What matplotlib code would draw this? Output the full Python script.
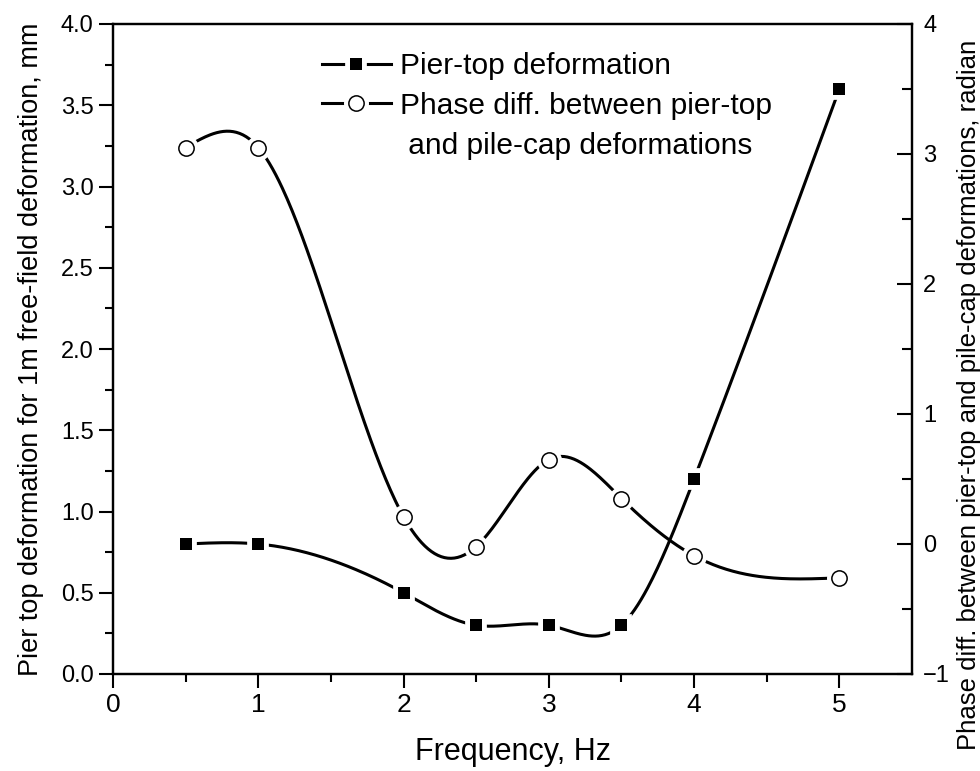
import numpy as np
import matplotlib.pyplot as plt
from matplotlib.lines import Line2D

# data
freq = [0.5, 1.0, 2.0, 2.5, 3.0, 3.5, 4.0, 5.0]
pier_top = [0.8, 0.8, 0.5, 0.3, 0.3, 0.3, 1.2, 3.6]
phase_diff = [3.05, 3.05, 0.21, -0.02, 0.65, 0.35, -0.09, -0.26]

x_ticks = [0, 1, 2, 3, 4, 5]
left_ticks = [0.0, 0.5, 1.0, 1.5, 2.0, 2.5, 3.0, 3.5, 4.0]
right_ticks = [-1, 0, 1, 2, 3, 4]

plt.rcParams['font.family'] = ['Liberation Sans', 'DejaVu Sans']


def natural_spline(x, y, n=400):
    # natural cubic spline through the data points (smooth connection)
    x = np.asarray(x, float)
    y = np.asarray(y, float)
    k = len(x)
    h = np.diff(x)
    A = np.zeros((k, k))
    b = np.zeros(k)
    A[0, 0] = A[-1, -1] = 1
    for i in range(1, k - 1):
        A[i, i - 1] = h[i - 1]
        A[i, i] = 2 * (h[i - 1] + h[i])
        A[i, i + 1] = h[i]
        b[i] = 6 * ((y[i + 1] - y[i]) / h[i] - (y[i] - y[i - 1]) / h[i - 1])
    M = np.linalg.solve(A, b)
    xs = np.linspace(x[0], x[-1], n)
    idx = np.clip(np.searchsorted(x, xs) - 1, 0, k - 2)
    x0, x1 = x[idx], x[idx + 1]
    hh = x1 - x0
    t0, t1 = x1 - xs, xs - x0
    ys = (M[idx] * t0**3 / (6 * hh) + M[idx + 1] * t1**3 / (6 * hh)
          + (y[idx] / hh - M[idx] * hh / 6) * t0
          + (y[idx + 1] / hh - M[idx + 1] * hh / 6) * t1)
    return xs, ys


fig = plt.figure(figsize=(9.8, 7.71), dpi=100)
ax = fig.add_axes([113 / 980, 1 - 674 / 771, (912 - 113) / 980, (674 - 24) / 771])
ax2 = ax.twinx()

lw = 2.2
# pier-top deformation (left axis)
xs, ys = natural_spline(freq, pier_top)
l1, = ax.plot(xs, ys, color='k', lw=lw, zorder=2)
h1, = ax.plot(freq, pier_top, 's', ms=9, mfc='w', mec='w', mew=7, zorder=3)
m1, = ax.plot(freq, pier_top, 's', ms=9, mfc='k', mec='k', mew=0, zorder=4)

# phase difference (right axis)
xs, ys = natural_spline(freq, phase_diff)
l2, = ax2.plot(xs, ys, color='k', lw=lw, zorder=2)
h2, = ax2.plot(freq, phase_diff, 'o', ms=11, mfc='w', mec='w', mew=7, zorder=3)
m2, = ax2.plot(freq, phase_diff, 'o', ms=11, mfc='w', mec='k', mew=1.1, zorder=4)

ax.set_xlim(0, 5.5)
ax.set_ylim(0, 4.0)
ax2.set_ylim(-1, 4)

ax.set_xticks(x_ticks)
ax.set_xticks(np.arange(0.5, 5.5, 1.0), minor=True)
ax.set_yticks(left_ticks)
ax.set_yticklabels(['%.1f' % v for v in left_ticks])
ax.set_yticks(np.arange(0.25, 4.0, 0.5), minor=True)
ax2.set_yticks(right_ticks)
ax2.set_yticks(np.arange(-0.5, 4.0, 1.0), minor=True)

for sp in list(ax.spines.values()) + list(ax2.spines.values()):
    sp.set_linewidth(1.6)

ax.tick_params(axis='x', which='major', direction='out', length=10, width=1.5,
               labelsize=19, pad=4)
ax.tick_params(axis='x', which='minor', direction='out', length=6, width=1.5)
ax.tick_params(axis='y', which='major', direction='out', length=10, width=1.5,
               labelsize=17, pad=4)
ax.tick_params(axis='y', which='minor', direction='out', length=6, width=1.5)
ax2.tick_params(axis='y', which='major', direction='in', length=11, width=1.5,
                labelsize=17, pad=8)
ax2.tick_params(axis='y', which='minor', direction='in', length=7, width=1.5)

ax.set_xlabel('Frequency, Hz', fontsize=22, labelpad=14)
ax.set_ylabel('Pier top deformation for 1m free-field deformation, mm',
              fontsize=19.5, labelpad=12)
ax2.set_ylabel('Phase diff. between pier-top and pile-cap deformations, radian',
               fontsize=18.5, rotation=90)
ax2.yaxis.set_label_coords(1.056, 0.43)

blank = Line2D([], [], ls='none')
leg = ax.legend([(l1, h1, m1), (l2, h2, m2), blank],
                ['Pier-top deformation', 'Phase diff. between pier-top',
                 ' and pile-cap deformations'],
                loc='upper left', bbox_to_anchor=(322 / 980, 1 - 52 / 771),
                bbox_transform=fig.transFigure, frameon=False, fontsize=21.5,
                numpoints=1, handlelength=2.3, handletextpad=0.3,
                labelspacing=0.4, borderpad=0, borderaxespad=0)

plt.savefig('out.png', dpi=100, facecolor='w')
